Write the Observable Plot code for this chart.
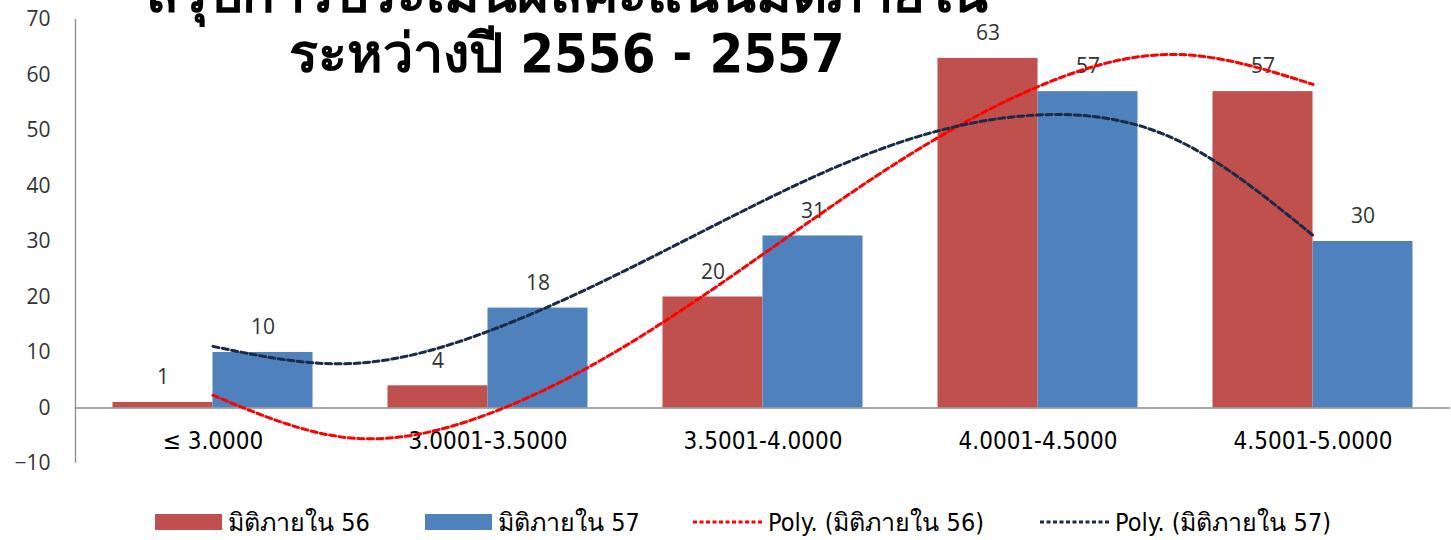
<!DOCTYPE html>
<html><head><meta charset="utf-8">
<script src="https://cdn.jsdelivr.net/npm/d3@7"></script>
<script src="https://cdn.jsdelivr.net/npm/@observablehq/plot@0.6"></script>
<style>
  body{margin:0;background:#fff;width:1451px;height:540px;overflow:hidden;position:relative;font-family:"DejaVu Sans",sans-serif}
  #chart{position:absolute;left:0;top:0}
  #title{position:absolute;left:0;width:1134px;top:-36px;text-align:center;font-weight:bold;font-size:54px;line-height:60px;color:#000;z-index:2;pointer-events:none;font-family:"DejaVu Sans Condensed","DejaVu Sans",sans-serif}
  .lg{position:absolute;top:502px;display:flex;align-items:center;font-size:25px;color:#000;font-family:"DejaVu Sans Condensed","DejaVu Sans",sans-serif;white-space:nowrap}
  .sw{width:67px;height:16px;margin-right:6px}
</style>
</head><body>
<div id="chart"></div>
<div id="title">สรุปการประเมินผลคะแนนมิติภายใน<br>ระหว่างปี 2556 - 2557</div>
<div id="legend"></div>
<script>
const categories = ["≤ 3.0000","3.0001-3.5000","3.5001-4.0000","4.0001-4.5000","4.5001-5.0000"];
const values56 = [1,4,20,63,57];
const values57 = [10,18,31,57,30];
const trendX = [1,1.5,2,2.5,3,3.5,4,4.5,5];
const trend56 = [2.3,-5.4,-1.1,11.2,27.7,44.6,57.9,63.7,58.3];
const trend57 = [11.1,8.0,13.8,24.8,37.3,47.9,52.8,48.4,31.1];
const yTicks = [-10,0,10,20,30,40,50,60,70];
const seriesNames = ["มิติภายใน 56","มิติภายใน 57","Poly. (มิติภายใน 56)","Poly. (มิติภายใน 57)"];
const colors = {red:"#C0504D", blue:"#4F81BD", trendRed:"#FF0000", trendBlue:"#1B2A47"};

const rows = categories.map((c,i)=>({pos:i+1, cat:c, v56:values56[i], v57:values57[i]}));
const half = 100/275;
const t56 = trendX.map((x,i)=>({x, y:trend56[i]}));
const t57 = trendX.map((x,i)=>({x, y:trend57[i]}));

const chart = Plot.plot({
  width:1451, height:490,
  marginLeft:75, marginRight:1, marginTop:19, marginBottom:27,
  style:{fontFamily:"'Open Sans', sans-serif", background:"#fff"},
  x:{domain:[0.5,5.5], axis:null},
  y:{domain:[-10,70], axis:null},
  marks:[
    Plot.rect(rows,{x1:d=>d.pos-half, x2:d=>d.pos, y1:0, y2:"v56", fill:colors.red}),
    Plot.rect(rows,{x1:d=>d.pos, x2:d=>d.pos+half, y1:0, y2:"v57", fill:colors.blue}),
    Plot.ruleY([0],{stroke:"#8c8c8c", strokeWidth:1.3}),
    Plot.ruleX([0.5],{y1:-10, y2:70, stroke:"#8c8c8c", strokeWidth:1.3}),
    Plot.axisY({ticks:yTicks, tickSize:0, tickPadding:25, fontSize:21, fill:"#333", label:null}),
    Plot.text(rows,{x:"pos", y:0, text:"cat", dy:33, fontSize:24, fill:"#000", fontFamily:"'DejaVu Sans Condensed', sans-serif"}),
    Plot.text(rows,{x:d=>d.pos-half/2, y:"v56", text:d=>String(d.v56), dy:-25, fontSize:21, fill:"#333"}),
    Plot.text(rows,{x:d=>d.pos+half/2, y:"v57", text:d=>String(d.v57), dy:-25, fontSize:21, fill:"#333"}),
    Plot.line(t56,{x:"x", y:"y", curve:"natural", stroke:colors.trendRed, strokeWidth:3, strokeDasharray:"6,3.5"}),
    Plot.line(t57,{x:"x", y:"y", curve:"natural", stroke:colors.trendBlue, strokeWidth:3, strokeDasharray:"6,3.5"})
  ]
});
document.getElementById("chart").appendChild(chart);

const lg = document.getElementById("legend");
const items = [
  {left:155, type:"box", color:colors.red, text:seriesNames[0]},
  {left:425, type:"box", color:colors.blue, text:seriesNames[1]},
  {left:693, type:"line", color:colors.trendRed, text:seriesNames[2]},
  {left:1040, type:"line", color:colors.trendBlue, text:seriesNames[3]}
];
for (const it of items) {
  const d = document.createElement("div");
  d.className = "lg"; d.style.left = it.left + "px";
  if (it.type === "box") {
    const s = document.createElement("div"); s.className = "sw"; s.style.background = it.color; d.appendChild(s);
  } else {
    d.insertAdjacentHTML("beforeend", `<svg width="69" height="16" style="margin-right:6px"><line x1="0" x2="69" y1="8" y2="8" stroke="${it.color}" stroke-width="2.8" stroke-dasharray="4,2.5"/></svg>`);
  }
  const t = document.createElement("span"); t.textContent = it.text; d.appendChild(t);
  lg.appendChild(d);
}
</script>
</body></html>
